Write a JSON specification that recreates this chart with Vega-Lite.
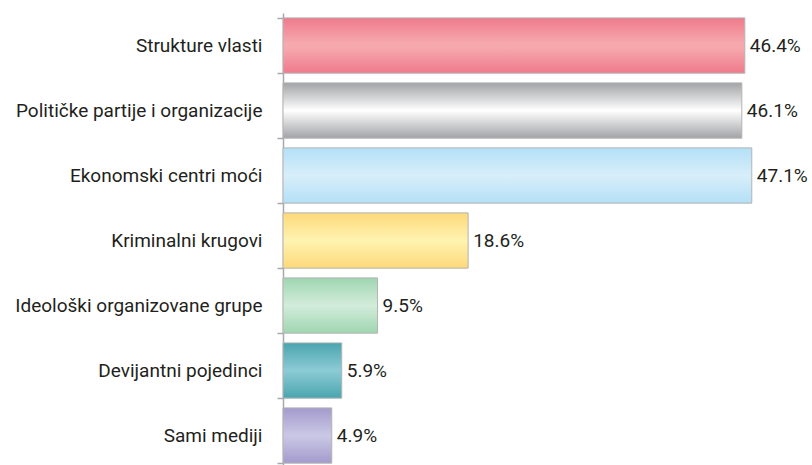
{
  "$schema": "https://vega.github.io/schema/vega-lite/v6.json",
  "width": 529,
  "height": 455,
  "autosize": "none",
  "padding": {"left": 283, "top": 13, "right": 0, "bottom": 0},
  "background": "white",
  "config": {"view": {"stroke": null}, "font": "Roboto"},
  "data": {"values": [
    {"k": "Strukture vlasti", "v": 46.4, "label": "46.4%"},
    {"k": "Političke partije i organizacije", "v": 46.1, "label": "46.1%"},
    {"k": "Ekonomski centri moći", "v": 47.1, "label": "47.1%"},
    {"k": "Kriminalni krugovi", "v": 18.6, "label": "18.6%"},
    {"k": "Ideološki organizovane grupe", "v": 9.5, "label": "9.5%"},
    {"k": "Devijantni pojedinci", "v": 5.9, "label": "5.9%"},
    {"k": "Sami mediji", "v": 4.9, "label": "4.9%"}
  ]},
  "encoding": {
    "y": {"field": "k", "type": "nominal", "sort": null,
      "scale": {"paddingInner": 0.15, "paddingOuter": 0.075},
      "axis": {"title": null, "tickBand": "extent", "domainColor": "#a7a9ac", "domainWidth": 1.5,
        "tickColor": "#a7a9ac", "tickWidth": 1.5, "tickSize": 6, "labelFontSize": 19,
        "labelColor": "#231f20", "labelPadding": 15, "labelFont": "Roboto", "labelLimit": 300}},
    "x": {"field": "v", "type": "quantitative", "scale": {"domain": [0, 53.15]}, "axis": null}
  },
  "layer": [
    {"mark": {"type": "bar", "stroke": "#b3b3b3", "strokeWidth": 1},
      "encoding": {"fill": {"condition": [
        {"test": "datum.k === 'Strukture vlasti'", "value": {"gradient": "linear", "x1": 0, "y1": 0, "x2": 0, "y2": 1, "stops": [{"offset": 0, "color": "#ef7a8c"}, {"offset": 0.45, "color": "#f6a8ad"}, {"offset": 0.55, "color": "#f6a8ad"}, {"offset": 1, "color": "#ef7a8c"}]}},
        {"test": "datum.k === 'Političke partije i organizacije'", "value": {"gradient": "linear", "x1": 0, "y1": 0, "x2": 0, "y2": 1, "stops": [{"offset": 0, "color": "#a2a3a6"}, {"offset": 0.5, "color": "#ffffff"}, {"offset": 1, "color": "#a2a3a6"}]}},
        {"test": "datum.k === 'Ekonomski centri moći'", "value": {"gradient": "linear", "x1": 0, "y1": 0, "x2": 0, "y2": 1, "stops": [{"offset": 0, "color": "#b3e0f7"}, {"offset": 0.5, "color": "#d8eefa"}, {"offset": 1, "color": "#b3e0f7"}]}},
        {"test": "datum.k === 'Kriminalni krugovi'", "value": {"gradient": "linear", "x1": 0, "y1": 0, "x2": 0, "y2": 1, "stops": [{"offset": 0, "color": "#fdd97a"}, {"offset": 0.5, "color": "#fff3b0"}, {"offset": 1, "color": "#fdd97a"}]}},
        {"test": "datum.k === 'Ideološki organizovane grupe'", "value": {"gradient": "linear", "x1": 0, "y1": 0, "x2": 0, "y2": 1, "stops": [{"offset": 0, "color": "#9fd6b0"}, {"offset": 0.5, "color": "#d3ecdb"}, {"offset": 1, "color": "#9fd6b0"}]}},
        {"test": "datum.k === 'Devijantni pojedinci'", "value": {"gradient": "linear", "x1": 0, "y1": 0, "x2": 0, "y2": 1, "stops": [{"offset": 0, "color": "#4aa5ae"}, {"offset": 0.5, "color": "#8ccbd5"}, {"offset": 1, "color": "#4aa5ae"}]}}
      ], "value": {"gradient": "linear", "x1": 0, "y1": 0, "x2": 0, "y2": 1, "stops": [{"offset": 0, "color": "#a39bcc"}, {"offset": 0.5, "color": "#cbc8e6"}, {"offset": 1, "color": "#a39bcc"}]}}}},
    {"mark": {"type": "text", "align": "left", "dx": 5, "fontSize": 19, "color": "#231f20", "font": "Roboto"},
      "encoding": {"text": {"field": "label"}}}
  ]
}
